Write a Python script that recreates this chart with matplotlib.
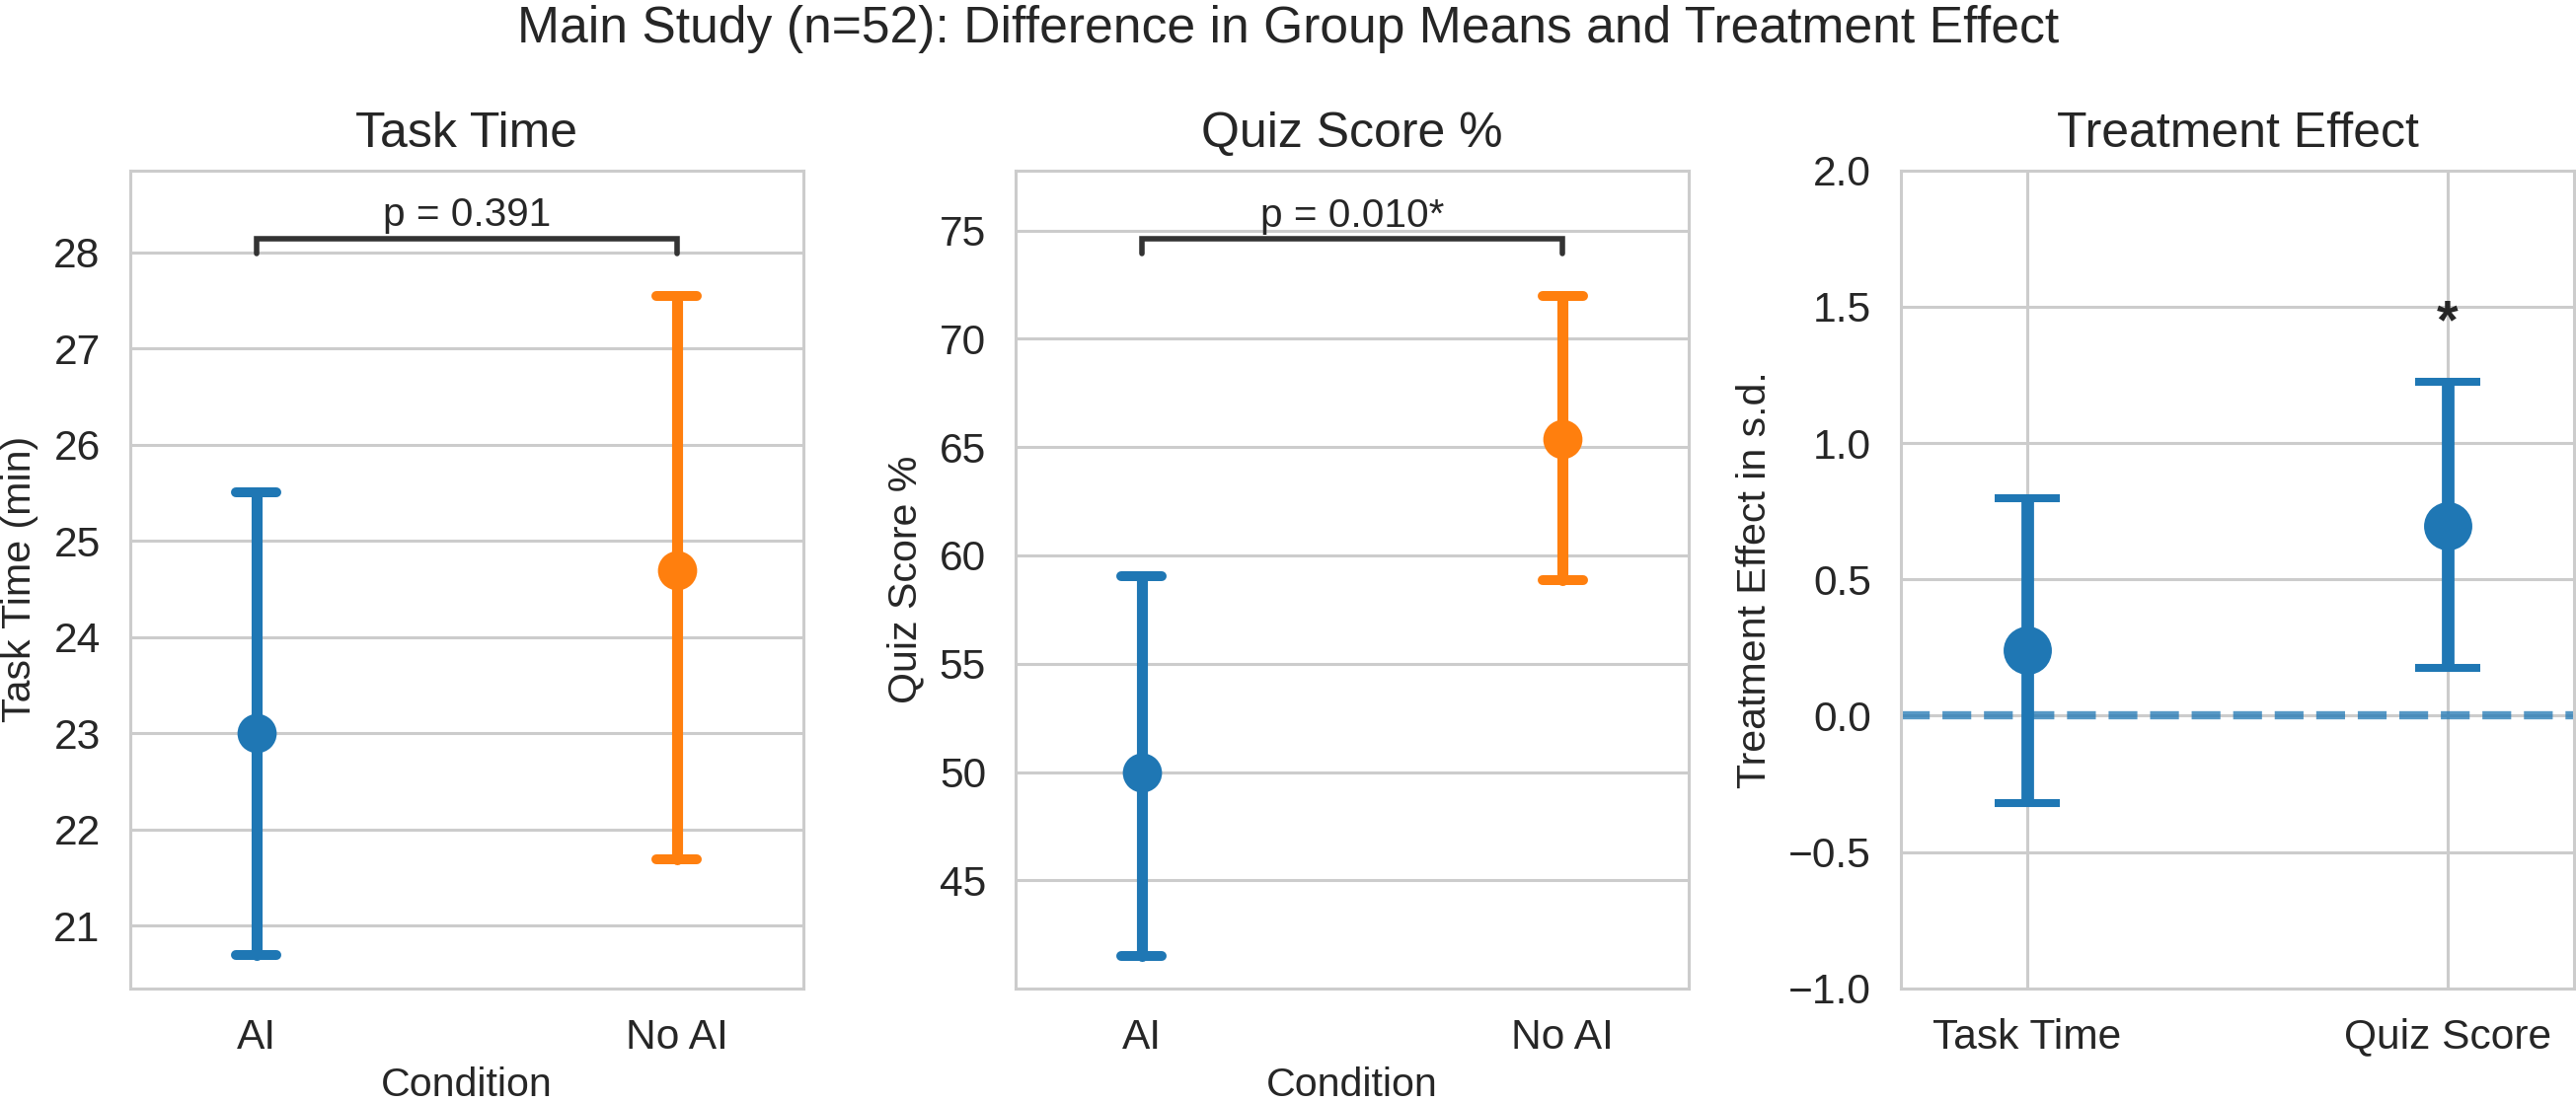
import matplotlib
matplotlib.use("Agg")
import matplotlib.pyplot as plt
import numpy as np

# ---- data ----
conditions = ["AI", "No AI"]
task_time_mean = [23.0, 24.69]
task_time_lo = [20.70, 21.69]
task_time_hi = [25.50, 27.54]
task_p_text = "p = 0.391"

quiz_mean = [50.0, 65.39]
quiz_lo = [41.49, 58.84]
quiz_hi = [59.05, 71.96]
quiz_p_text = "p = 0.010*"

effect_labels = ["Task Time", "Quiz Score"]
effect_mean = [0.239, 0.697]
effect_lo = [-0.319, 0.174]
effect_hi = [0.798, 1.223]
effect_sig = ["", "*"]

colors = ["#1f77b4", "#ff7f0e"]
TXT = "#262626"
GRID = "#cccccc"

plt.rcParams["font.family"] = ["Liberation Sans", "DejaVu Sans"]
plt.rcParams["text.color"] = TXT
plt.rcParams["axes.labelcolor"] = TXT
plt.rcParams["xtick.color"] = TXT
plt.rcParams["ytick.color"] = TXT

DPI = 200
fig = plt.figure(figsize=(2610 / DPI, 1117 / DPI), dpi=DPI)
W, H = 2610, 1117

def make_ax(left_px):
    top_px, bot_px = 172.7, 1001.7
    return fig.add_axes([left_px / W, 1 - bot_px / H, 682 / W, (bot_px - top_px) / H])

axes = [make_ax(131.7), make_ax(1029), make_ax(1926)]

for ax in axes:
    ax.set_facecolor("white")
    for s in ax.spines.values():
        s.set_color(GRID)
        s.set_linewidth(1.1)
    ax.grid(True, axis="y", color=GRID, linewidth=1.1)
    ax.set_axisbelow(True)
    ax.tick_params(axis="both", length=0, pad=10.8, labelsize=15.3)
    ax.set_xlim(-0.3, 1.3)


def group_panel(ax, means, lo, hi, title, ylabel, ylim, bracket, ptext, ptext_y):
    x = np.arange(len(means))
    cap = 0.048
    for i in range(len(means)):
        c = colors[i]
        ax.plot([x[i], x[i]], [lo[i], hi[i]], color=c, lw=4, solid_capstyle="round", zorder=3)
        ax.plot([x[i] - cap, x[i] + cap], [lo[i], lo[i]], color=c, lw=3.6, solid_capstyle="round", zorder=3)
        ax.plot([x[i] - cap, x[i] + cap], [hi[i], hi[i]], color=c, lw=3.6, solid_capstyle="round", zorder=3)
        ax.plot([x[i]], [means[i]], marker="o", markersize=13.3, color=c, zorder=4, linestyle="none")
    ax.set_xticks(x)
    ax.set_xticklabels(conditions)
    ax.set_ylim(*ylim)
    ax.set_title(title, fontsize=18, pad=8.6, color=TXT)
    ax.set_ylabel(ylabel, fontsize=14.8, labelpad=5.5)
    ax.set_xlabel("Condition", fontsize=14.8, labelpad=3.5)
    yb, yt = bracket
    ax.plot([0, 0, 1, 1], [yb, yt, yt, yb], color="#333333", lw=2.0,
            solid_capstyle="round", solid_joinstyle="miter", zorder=5)
    ax.text(0.5, ptext_y, ptext, ha="center", va="baseline", fontsize=14.6, color=TXT)


group_panel(axes[0], task_time_mean, task_time_lo, task_time_hi, "Task Time",
            "Task Time (min)", (20.35, 28.85), (27.99, 28.144), task_p_text, 28.27)
group_panel(axes[1], quiz_mean, quiz_lo, quiz_hi, "Quiz Score %",
            "Quiz Score %", (40.02, 77.77), (73.93, 74.62), quiz_p_text, 75.17)

# ---- treatment effect panel ----
ax = axes[2]
ax.grid(True, axis="x", color=GRID, linewidth=1.1)
xe = np.arange(len(effect_mean))
ax.axhline(0, color="#1f77b4", alpha=0.75, lw=3.0, linestyle=(0, (3.5, 1.55)), zorder=2)
m = np.array(effect_mean)
yerr = np.vstack([m - np.array(effect_lo), np.array(effect_hi) - m])
ax.errorbar(xe, m, yerr=yerr, fmt="o", color="#1f77b4", markersize=16.6,
            elinewidth=4.6, capsize=12, capthick=2.9, zorder=3)
for i, s in enumerate(effect_sig):
    if s:
        ax.text(xe[i], 1.385, s, ha="center", va="baseline", fontsize=20,
                fontweight="bold", color=TXT)
ax.set_xticks(xe)
ax.set_xticklabels(effect_labels)
ax.set_ylim(-1.0, 2.0)
ax.set_yticks(np.arange(-1.0, 2.01, 0.5))
ax.set_title("Treatment Effect", fontsize=18, pad=8.6, color=TXT)
ax.set_ylabel("Treatment Effect in s.d.", fontsize=14.8, labelpad=5.5)

fig.suptitle("Main Study (n=52): Difference in Group Means and Treatment Effect",
             fontsize=18.6, y=1 - 30 / H, va="center", color=TXT)

fig.savefig("out.png", dpi=DPI)
